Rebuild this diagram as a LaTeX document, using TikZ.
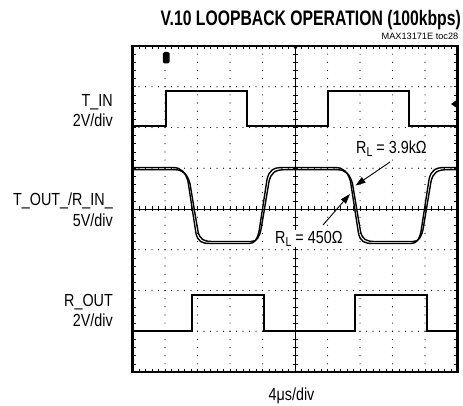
\documentclass[tikz,border=0pt]{standalone}
\usepackage{fontspec}
\setmainfont{Liberation Sans}
\newfontfamily\cond{Liberation Sans}[FakeStretch=0.82]
\newfontfamily\condb{Liberation Sans}[FakeStretch=0.75]
\usetikzlibrary{arrows.meta}
\newcommand\sbL{\raisebox{-3pt}{\fontsize{13}{13}\selectfont L}}
% T_OUT edges: #1 = edge of T_IN, #2 = high level, #3 = low level, #4 = shift
\newcommand\foutedge[4]{-- ({#1+7+#4},#2) .. controls ({#1+16+#4},#2) and ({#1+20+#4},{#2+5}) .. ({#1+22.5+#4},{#2+14}) -- ({#1+30.5+#4},{#3-10}) .. controls ({#1+32.5+#4},{#3-2}) and ({#1+36+#4},#3) .. ({#1+45+#4},#3)}
\newcommand\routedge[4]{-- ({#1+2+#4},#3) .. controls ({#1+8+#4},#3) and ({#1+10+#4},{#3-4}) .. ({#1+12+#4},{#3-12}) -- ({#1+20+#4},{#2+12}) .. controls ({#1+22+#4},{#2+3}) and ({#1+26+#4},#2) .. ({#1+36+#4},#2)}
\tikzset{
  lab/.style={font=\cond\fontsize{17.5}{20}\selectfont, inner sep=0pt, anchor=base east},
  rlab/.style={font=\cond\fontsize{17.5}{20}\selectfont, inner sep=1pt, anchor=base west, fill=white},
  trace/.style={line width=1.4pt, line join=round},
  sig/.style={line width=2pt, line join=miter},
  callout/.style={line width=0.9pt, -{Triangle[length=10pt,width=6.5pt]}},
  gridline/.style={line width=0.6pt},
  tick/.style={line width=0.6pt},
  frame/.style={line width=2.5pt},
}
\begin{document}
\begin{tikzpicture}[x=1pt,y=-1pt]
\useasboundingbox (0,0) rectangle (463,406);
\def\gl{132.5}\def\gr{457.5}\def\gt{46}\def\gb{372}
% dotted grid
\foreach \j in {1,2,3,5,6,7} {\foreach \k in {0,...,50} {\fill ({\gl+\k*6.5},{\gt+\j*40.75}) circle (0.6);}}
\foreach \i in {1,2,3,4,6,7,8,9} {\foreach \k in {0,...,40} {\fill ({\gl+\i*32.5},{\gt+\k*8.15}) circle (0.6);}}
% centre axes
\draw[gridline] (\gl,209) -- (\gr,209);
\draw[gridline] (295,\gt) -- (295,\gb);
\foreach \k in {1,...,49} {\draw[tick] ({\gl+\k*6.5},206.5) -- ++(0,5);}
\foreach \k in {1,...,39} {\draw[tick] (292.5,{\gt+\k*8.15}) -- ++(5,0);}
% frame ticks
\foreach \k in {1,...,49} {\draw[tick] ({\gl+\k*6.5},\gt) -- ++(0,3.5); \draw[tick] ({\gl+\k*6.5},\gb) -- ++(0,-3.5);}
\foreach \k in {1,...,39} {\draw[tick] (\gl,{\gt+\k*8.15}) -- ++(3.5,0); \draw[tick] (\gr,{\gt+\k*8.15}) -- ++(-3.5,0);}
\draw[frame] (\gl,\gt) rectangle (\gr,\gb);
% markers
\fill (293,46) -- (298,46) -- (295.5,50) -- cycle;
\fill[rounded corners=1.5pt] (162.8,52) rectangle (169.5,63.5);
\fill (451,104) -- (456,100.5) -- (456,107.5) -- cycle;
% T_IN
\draw[sig] (\gl,126.5) -- (165.5,126.5) -- (165.5,91) -- (247,91) -- (247,126.5) -- (328,126.5) -- (328,91) -- (409,91) -- (409,126.5) -- (\gr,126.5);
% R_OUT
\draw[sig] (\gl,330.5) -- (191.5,330.5) -- (191.5,294.5) -- (264,294.5) -- (264,330.5) -- (354.5,330.5) -- (354.5,294.5) -- (426.5,294.5) -- (426.5,330.5) -- (\gr,330.5);
% T_OUT traces
\draw[trace] (\gl,167.5) \foutedge{165.5}{167.5}{243.5}{0} \routedge{247}{167.5}{243.5}{0} \foutedge{328}{167.5}{243.5}{0} \routedge{409}{167.5}{243.5}{0} -- (\gr,167.5);
\draw[trace] (\gl,169.7) \foutedge{165.5}{169.7}{241.5}{2} \routedge{247}{169.7}{241.5}{2} \foutedge{328}{169.7}{241.5}{2} \routedge{409}{169.7}{241.5}{2} -- (\gr,169.7);
% labels
\node[lab] (tin) at (113,106.7) {T\_IN};
\node[lab] (tinsc) at (113,126.7) {2V/div};
\node[lab] (tout) at (113,206) {T\_OUT\_/R\_IN\_};
\node[lab] (toutsc) at (113,226.7) {5V/div};
\node[lab] (rout) at (113,306) {R\_OUT};
\node[lab] (routsc) at (113,326.7) {2V/div};
\node[lab, anchor=base] (tdiv) at (291.5,400) {4μs/div};
\node[font=\condb\bfseries\fontsize{21}{24}\selectfont, anchor=base east, inner sep=0pt] (title) at (461,26) {V.10 LOOPBACK OPERATION (100kbps)};
\node[font=\fontsize{9.2}{10}\selectfont, anchor=base east, inner sep=0pt] (toc) at (458.5,39.5) {MAX13171E toc28};
% callouts
\node[rlab] (r39) at (355,153.3) {R\sbL{} = 3.9kΩ};
\node[rlab] (r450) at (274,243.3) {R\sbL{} = 450Ω};
\coordinate (s39) at (390,162);
\coordinate (t39) at (355.5,185.5);
\coordinate (s450) at (323,225);
\coordinate (t450) at (350,194);
\draw[callout] (s39) -- (t39);
\draw[callout] (s450) -- (t450);
\end{tikzpicture}
\end{document}
